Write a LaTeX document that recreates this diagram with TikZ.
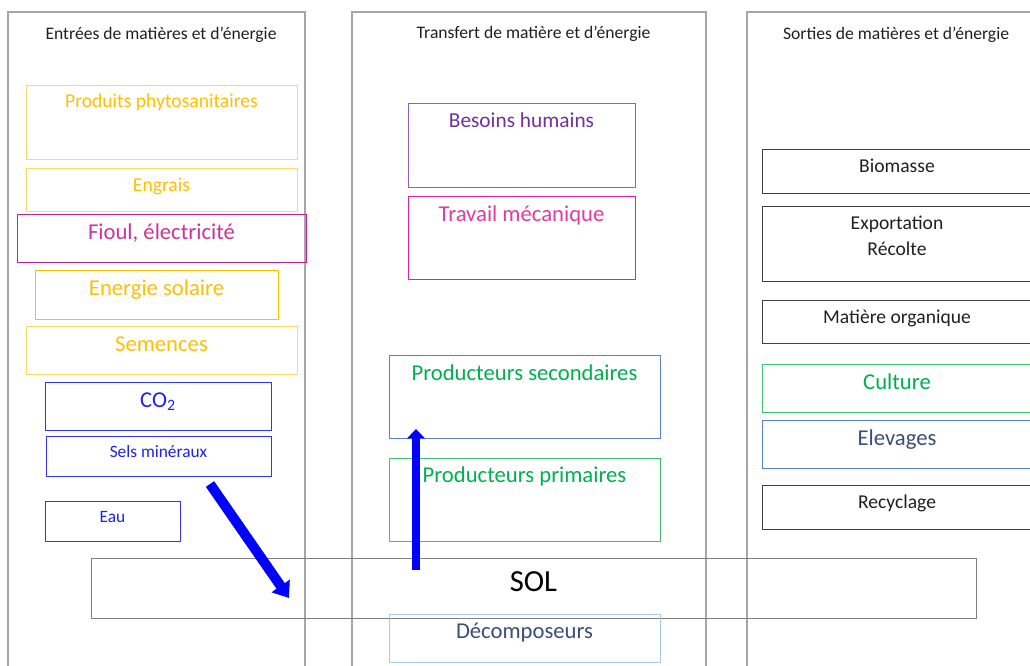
\documentclass[tikz,border=0pt]{standalone}
\usepackage{fontspec}
\setmainfont{Carlito}
\usetikzlibrary{arrows.meta}
\newcommand\fs[1]{\fontsize{#1pt}{#1pt}\selectfont}
\definecolor{cYel}{HTML}{FFC000}
\definecolor{cYelB}{HTML}{FFD966}
\definecolor{cMag}{HTML}{CC3399}
\definecolor{cMagB}{HTML}{C0258F}
\definecolor{cPink}{HTML}{E03CA0}
\definecolor{cPinkB}{HTML}{E0249B}
\definecolor{cPur}{HTML}{7030A0}
\definecolor{cPurB}{HTML}{9060C0}
\definecolor{cBlu}{HTML}{2020F0}
\definecolor{cBluB}{HTML}{3333FF}
\definecolor{cGrn}{HTML}{00B050}
\definecolor{cGrnB}{HTML}{40C070}
\definecolor{cSteel}{HTML}{5B80D0}
\definecolor{cLBlu}{HTML}{A8C8EC}
\definecolor{cNavy}{HTML}{3A4E7A}
\definecolor{cCol}{HTML}{A6A6A6}
\definecolor{cSol}{HTML}{808080}
\definecolor{cBlk}{HTML}{404040}
\definecolor{cTxt}{HTML}{202020}
\definecolor{cArr}{HTML}{0000FF}
\newcommand\bx[8]{%
  \node[boxsty,#6,minimum width={(#4-#2)*0.75pt},minimum height={(#5-#3)*0.75pt}] (#1) at ({(#2+#4)/2},{(#3+#5)/2}) {};
  \node[#6,draw=none,inner sep=0pt,anchor=base,align=center] (#1-t) at ({(#2+#4)/2},#8) {#7};
}
\begin{document}
\begin{tikzpicture}[x=0.75pt,y=-0.75pt,
  boxsty/.style={draw,inner sep=0pt,outer sep=0pt,line width=0.75pt},
  colsty/.style={draw=cCol,line width=1.1pt},
  title/.style={text=cTxt,font={\fs{13.2}},inner sep=0pt,anchor=base},
  yel/.style={draw=cYelB,text=cYel,font={\fs{14.7}}},
  yelbig/.style={draw=cYelB,text=cYel,font={\fs{17}}},
  yeldk/.style={draw=cYel,text=cYel,font={\fs{17}}},
  mag/.style={draw=cMagB,text=cMag,font={\fs{17}}},
  pink/.style={draw=cPinkB,text=cPink,font={\fs{17}}},
  pur/.style={draw=cPurB,text=cPur,font={\fs{16}}},
  blubig/.style={draw=cBluB,text=cBlu,font={\fs{17}}},
  blusm/.style={draw=cBluB,text=cBlu,font={\fs{13}}},
  grnsec/.style={draw=cSteel,text=cGrn,font={\fs{17}}},
  grn/.style={draw=cGrnB,text=cGrn,font={\fs{17}}},
  deco/.style={draw=cLBlu,text=cNavy,font={\fs{17}}},
  elev/.style={draw=cSteel,text=cNavy,font={\fs{17}}},
  blk/.style={draw=cBlk,text=cTxt,font={\fs{14.7}}},
  sol/.style={draw=cSol,text=black,font={\fs{23}}},
  bigarrow/.style={draw=cArr,line width=7.5pt,-{Triangle[width=16pt,length=11pt]}},
  uparrow/.style={draw=cArr,line width=6pt,-{Triangle[width=13pt,length=7pt]}}
]
\useasboundingbox (0,0) rectangle (1030,666);
\fill[white] (0,0) rectangle (1030,666);
\clip (0,0) rectangle (1030,666);
% columns
\draw[colsty] (8,700) -- (8,12) -- (305,12) -- (305,700);
\draw[colsty] (352,700) -- (352,12) -- (706,12) -- (706,700);
\draw[colsty] (747,700) -- (747,12) -- (1040,12);
\node[title] (t1) at (161,40) {Entrées de matières et d’énergie};
\node[title] (t2) at (533.5,39) {Transfert de matière et d’énergie};
\node[title] (t3) at (896,40) {Sorties de matières et d’énergie};
% SOL
\bx{sol}{91}{558}{976}{618}{sol}{SOL}{591}
% left column
\bx{phyto}{26}{86}{297}{160}{yel}{Produits phytosanitaires}{108}
\bx{engrais}{26}{169}{297}{212}{yel}{Engrais}{192}
\bx{fioul}{17}{215}{306}{263}{mag}{Fioul, électricité}{240}
\bx{solaire}{35}{271}{278}{319}{yeldk}{Energie solaire}{296}
\bx{semences}{26}{326}{297}{374}{yelbig}{Semences}{351}
\bx{co2}{45}{382}{271}{430}{blubig}{CO\textsubscript{2}}{407}
\bx{sels}{46}{436}{271}{476}{blusm}{Sels minéraux}{457}
\bx{eau}{45}{501}{180}{541}{blusm}{Eau}{522}
% middle column
\bx{besoins}{408}{104}{635}{188}{pur}{Besoins humains}{128}
\bx{travail}{408}{197}{635}{280}{pink}{Travail mécanique}{222}
\bx{prodsec}{389}{355}{660}{438}{grnsec}{Producteurs secondaires}{380}
\bx{prodprim}{389}{458}{660}{541}{grn}{Producteurs primaires}{482}
\bx{deco}{389}{614}{660}{662}{deco}{Décomposeurs}{638}
% right column
\bx{biomasse}{762}{150}{1032}{194}{blk}{Biomasse}{173}
\bx{export}{762}{207}{1032}{282}{blk}{Exportation\\[5pt]Récolte}{256}
\bx{matorg}{762}{300}{1032}{343}{blk}{Matière organique}{323}
\bx{culture}{762}{364}{1032}{412}{grn}{Culture}{389}
\bx{elevages}{762}{420}{1032}{468}{elev}{Elevages}{445}
\bx{recyclage}{762}{485}{1032}{529}{blk}{Recyclage}{508}
% arrows
\coordinate (d1) at (210,484);
\coordinate (d2) at (289,598);
\draw[bigarrow] (d1) -- (d2);
\coordinate (v1) at (416,570);
\coordinate (v2) at (416,429);
\draw[uparrow] (v1) -- (v2);
\end{tikzpicture}
\end{document}
